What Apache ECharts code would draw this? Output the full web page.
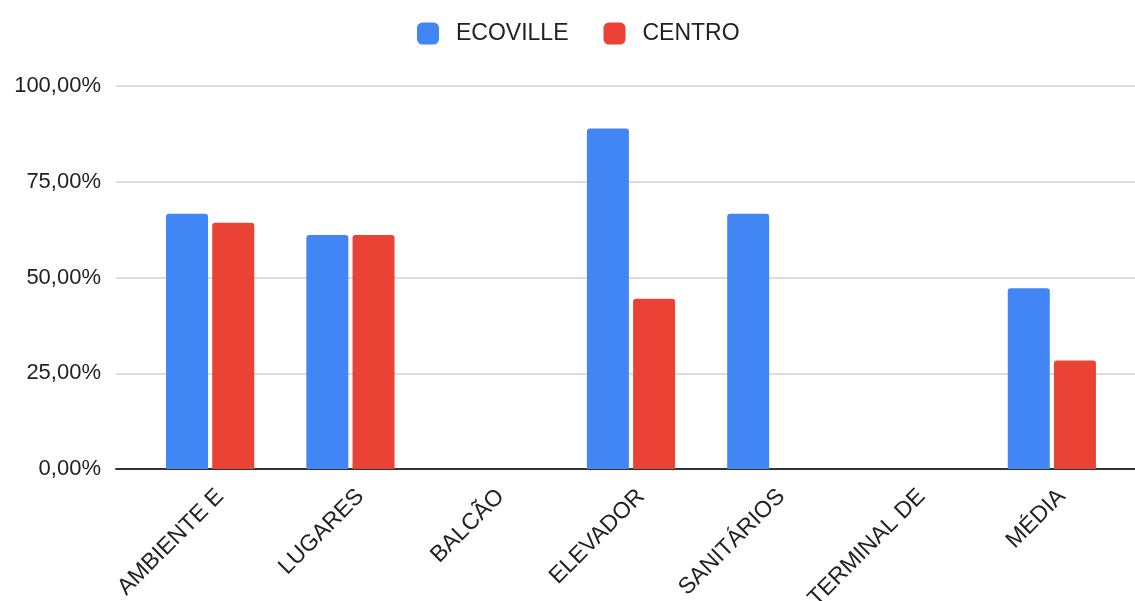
<!DOCTYPE html>
<html>
<head>
<meta charset="utf-8">
<script src="https://cdn.jsdelivr.net/npm/echarts@6/dist/echarts.min.js"></script>
<style>
html,body{margin:0;padding:0;background:#fff;}
#c{width:1135px;height:601px;}
</style>
</head>
<body>
<div id="c"></div>
<script>
const categories = ['AMBIENTE E', 'LUGARES', 'BALCÃO', 'ELEVADOR', 'SANITÁRIOS', 'TERMINAL DE', 'MÉDIA'];
const ecoville = [0.6667, 0.6111, 0, 0.8889, 0.6667, 0, 0.4722];
const centro = [0.6429, 0.6111, 0, 0.4444, 0, 0, 0.2831];
const seriesNames = ['ECOVILLE', 'CENTRO'];
const yTicks = [0, 0.25, 0.5, 0.75, 1];

const fmt = v => (v * 100).toFixed(2).replace('.', ',') + '%';
const font = '"Liberation Sans", Arial, sans-serif';

const chart = echarts.init(document.getElementById('c'), null, {renderer: 'canvas'});
chart.setOption({
  animation: false,
  backgroundColor: '#fff',
  color: ['#4285F4', '#EA4335'],
  legend: {
    data: seriesNames,
    top: 17,
    left: 412,
    itemWidth: 22,
    itemHeight: 22,
    itemGap: 35,
    icon: 'roundRect',
    textStyle: {fontSize: 23, color: '#222', fontFamily: font, padding: [0, 0, 0, 12]}
  },
  grid: [
    {left: 116, right: 0, top: 86, bottom: 132, containLabel: false, outerBoundsMode: 'none'},
    {left: 140, right: 13, top: 86, bottom: 132, containLabel: false, outerBoundsMode: 'none'},
    {left: 150, right: 3, top: 86, bottom: 132, containLabel: false, outerBoundsMode: 'none'}
  ],
  xAxis: [
    {type: 'value', gridIndex: 0, min: 0, max: 1, show: true,
     axisLine: {show: true, onZero: false, lineStyle: {color: '#333', width: 2}},
     axisTick: {show: false}, axisLabel: {show: false}, splitLine: {show: false}},
    {type: 'category', gridIndex: 1, data: categories,
     axisLine: {show: false}, axisTick: {show: false}, axisLabel: {show: false}},
    {type: 'category', gridIndex: 2, data: categories,
     axisLine: {show: false}, axisTick: {show: false},
     axisLabel: {rotate: 45, fontSize: 23, color: '#222', fontFamily: font, margin: 24, interval: 0}}
  ],
  yAxis: [
    {type: 'value', gridIndex: 0, min: yTicks[0], max: yTicks[yTicks.length - 1], interval: 0.25,
     axisLine: {show: false}, axisTick: {show: false},
     axisLabel: {formatter: fmt, fontSize: 22, color: '#222', fontFamily: font, margin: 15},
     splitLine: {lineStyle: {color: '#d0d0d0', width: 1.5}}},
    {type: 'value', gridIndex: 1, min: yTicks[0], max: yTicks[yTicks.length - 1], interval: 0.25,
     show: false, splitLine: {show: false}},
    {type: 'value', gridIndex: 2, min: yTicks[0], max: yTicks[yTicks.length - 1], interval: 0.25,
     show: false, splitLine: {show: false}}
  ],
  series: [
    {name: seriesNames[0], type: 'bar', xAxisIndex: 1, yAxisIndex: 1, data: ecoville,
     barWidth: 42, barGap: '10%', itemStyle: {borderRadius: [3, 3, 0, 0]}},
    {name: seriesNames[1], type: 'bar', xAxisIndex: 1, yAxisIndex: 1, data: centro,
     barWidth: 42, barGap: '10%', itemStyle: {borderRadius: [3, 3, 0, 0]}}
  ]
});
</script>
</body>
</html>
